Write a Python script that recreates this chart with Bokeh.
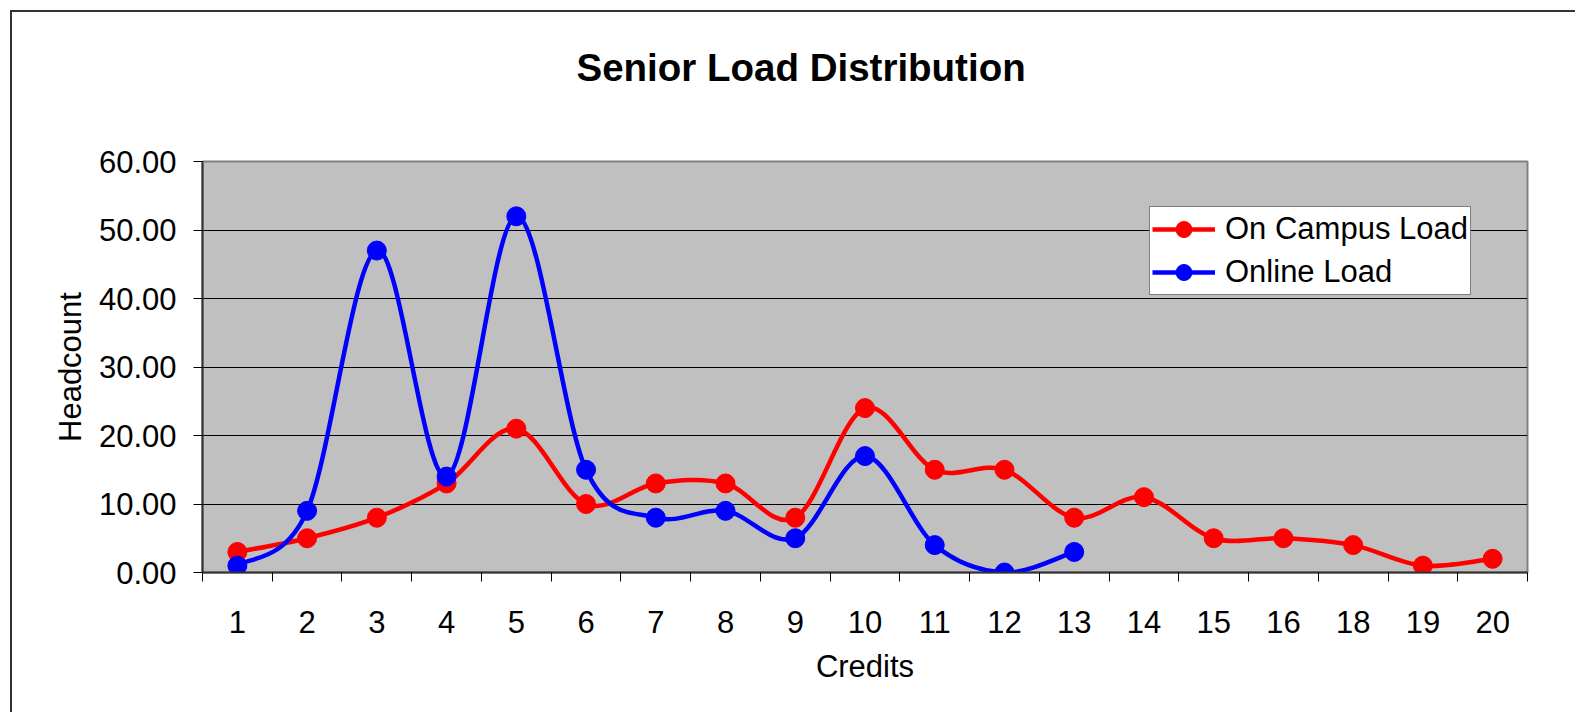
from bokeh.plotting import figure
from bokeh.models import (FixedTicker, NumeralTickFormatter, Legend, LegendItem,
                          ColumnDataSource, InlineStyleSheet, Title)
from bokeh.embed import file_html
from bokeh.resources import INLINE

# ---- data ----
credits = ["1", "2", "3", "4", "5", "6", "7", "8", "9", "10",
           "11", "12", "13", "14", "15", "16", "18", "19", "20"]
on_campus = [3, 5, 8, 13, 21, 10, 13, 13, 8, 24, 15, 15, 8, 11, 5, 5, 4, 1, 2]
online = [1, 9, 47, 14, 52, 15, 8, 9, 5, 17, 4, 0, 3]
series_names = ["On Campus Load", "Online Load"]
chart_title = "Senior Load Distribution"
y_ticks = [0, 10, 20, 30, 40, 50, 60]

FONT = "Liberation Sans"
RED = "#FF0000"
BLUE = "#0000FF"


def smooth_source(values):
    """Excel-style smoothed line: cubic Bezier segments (Catmull-Rom tangents)."""
    xs = [i + 1 for i in range(len(values))]
    ys = list(values)
    n = len(xs)
    d = dict(x0=[], y0=[], x1=[], y1=[], cx0=[], cy0=[], cx1=[], cy1=[])
    for i in range(n - 1):
        a = i - 1 if i > 0 else i
        b = i + 2 if i + 2 < n else i + 1
        d["x0"].append(xs[i]); d["y0"].append(ys[i])
        d["x1"].append(xs[i + 1]); d["y1"].append(ys[i + 1])
        d["cx0"].append(xs[i] + (xs[i + 1] - xs[a]) / 6.0)
        d["cy0"].append(ys[i] + (ys[i + 1] - ys[a]) / 6.0)
        d["cx1"].append(xs[i + 1] - (xs[b] - xs[i]) / 6.0)
        d["cy1"].append(ys[i + 1] - (ys[b] - ys[i]) / 6.0)
    return ColumnDataSource(d), xs


p = figure(width=1565, height=712, x_range=(0.5, len(credits) + 0.5), y_range=(0, 60),
           output_backend="svg", toolbar_location=None,
           min_border_left=202, min_border_right=38, min_border_top=161, min_border_bottom=140)
# chart-area border: only its top and left edges fall inside the picture
p.stylesheets = [InlineStyleSheet(css=":host { position: relative; } "
                                      ":host::before { content: ''; position: absolute; "
                                      "left: 10px; top: 10px; right: -10px; bottom: 0; "
                                      "border-top: 2px solid #333333; border-left: 2px solid #333333; "
                                      "z-index: 100; pointer-events: none; }")]

p.background_fill_color = "#C0C0C0"
p.border_fill_color = "white"
p.outline_line_color = "#808080"
p.outline_line_width = 2

# title, with a blank spacer between it and the plot area
p.title.text = chart_title
p.title.text_font = FONT
p.title.text_font_size = "38.5px"
p.title.text_font_style = "bold"
p.title.text_color = "black"
p.title.align = "left"
p.title.offset = 374
p.title.standoff = 0
p.add_layout(Title(text=" ", text_font_size="1px", text_color="white", standoff=70), "above")

# x axis
xa = p.xaxis[0]
xa.ticker = FixedTicker(ticks=list(range(1, len(credits) + 1)),
                        minor_ticks=[i + 0.5 for i in range(len(credits) + 1)])
xa.major_label_overrides = {i + 1: c for i, c in enumerate(credits)}
xa.major_tick_line_color = None
xa.major_tick_out = 0
xa.major_tick_in = 0
xa.minor_tick_out = 9
xa.minor_tick_in = 0
xa.minor_tick_line_color = "black"
xa.minor_tick_line_width = 1
xa.major_label_standoff = 29
xa.major_label_text_font = FONT
xa.major_label_text_font_size = "31px"
xa.major_label_text_color = "black"
xa.axis_label = "Credits"
xa.axis_label_text_font = FONT
xa.axis_label_text_font_size = "31px"
xa.axis_label_text_font_style = "normal"
xa.axis_label_text_color = "black"
xa.axis_label_standoff = 13
xa.axis_line_color = "#333333"
xa.axis_line_width = 2

# y axis
ya = p.yaxis[0]
ya.ticker = FixedTicker(ticks=y_ticks, minor_ticks=[])
ya.formatter = NumeralTickFormatter(format="0.00")
ya.major_tick_out = 9
ya.major_tick_in = 0
ya.major_tick_line_color = "black"
ya.major_label_standoff = 17
ya.major_label_text_font = FONT
ya.major_label_text_font_size = "31px"
ya.major_label_text_color = "black"
ya.axis_label = "Headcount"
ya.axis_label_text_font = FONT
ya.axis_label_text_font_size = "31px"
ya.axis_label_text_font_style = "normal"
ya.axis_label_text_color = "black"
ya.axis_label_standoff = 8
ya.axis_line_color = "#333333"
ya.axis_line_width = 2

p.xgrid.grid_line_color = None
p.ygrid.ticker = FixedTicker(ticks=y_ticks)
p.ygrid.grid_line_color = "black"
p.ygrid.grid_line_width = 1

# series
items = []
for vals, color, name in [(on_campus, RED, series_names[0]), (online, BLUE, series_names[1])]:
    src, xs = smooth_source(vals)
    p.bezier(x0="x0", y0="y0", x1="x1", y1="y1", cx0="cx0", cy0="cy0", cx1="cx1", cy1="cy1",
             source=src, line_color=color, line_width=4.5)
    sc = p.scatter(x=xs, y=vals, size=19, marker="circle", fill_color=color, line_color=color)
    leg_line = p.line(x=xs, y=vals, line_color=color, line_width=4.5, visible=False)
    items.append(LegendItem(label=name, renderers=[leg_line, sc]))

legend = Legend(items=items, location=(947, 277))
legend.label_text_font = FONT
legend.label_text_font_size = "31px"
legend.label_text_color = "black"
legend.padding = 2
legend.spacing = 3
legend.label_height = 40
legend.glyph_height = 40
legend.glyph_width = 63
legend.label_standoff = 10
legend.margin = 0
legend.border_line_color = "black"
legend.border_line_width = 1
legend.background_fill_color = "white"
legend.background_fill_alpha = 1
p.add_layout(legend, "center")

open("out.html", "w").write(file_html(p, INLINE))
